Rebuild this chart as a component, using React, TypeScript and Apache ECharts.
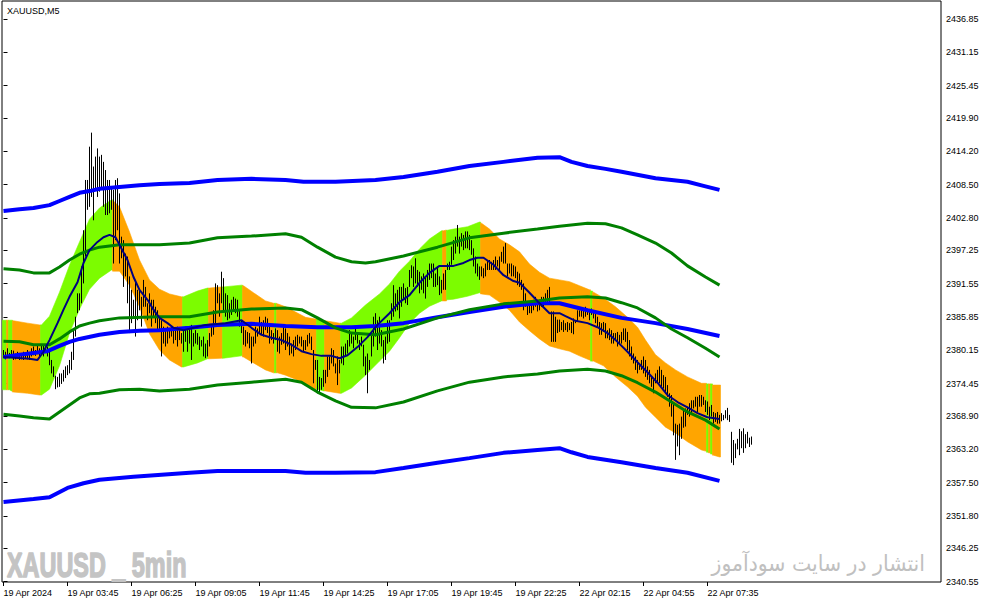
import React, { useEffect, useRef } from "react";
import * as echarts from "echarts";

// ---- axis ticks ----
const xTickIdx = [0, 32, 64, 96, 128, 160, 192, 224, 256, 288, 320, 352];
const xTickText = [
  "19 Apr 2024", "19 Apr 03:45", "19 Apr 06:25", "19 Apr 09:05", "19 Apr 11:45", "19 Apr 14:25",
  "19 Apr 17:05", "19 Apr 19:45", "19 Apr 22:25", "22 Apr 02:15", "22 Apr 04:55", "22 Apr 07:35",
];
const yTickVals = [
  2436.85, 2431.15, 2425.45, 2419.9, 2414.2, 2408.5, 2402.8, 2397.25, 2391.55,
  2385.85, 2380.15, 2374.45, 2368.9, 2363.2, 2357.5, 2351.8, 2346.25, 2340.55,
];

// ---- price bars (M5) ----
const highs = [
  2380.2, 2379.9, 2380.5, 2379.7, 2380.2, 2380.1, 2379.6, 2379.9, 2379.7, 2379.5,
  2379.9, 2379.6, 2380.2, 2379.7, 2380.5, 2380.8, 2380.2, 2380.9, 2380.5, 2381.1,
  2381.1, 2381.1, 2380.8, 2380.2, 2378.5, 2377.4, 2375.8, 2375.6, 2376.2, 2376.2,
  2376.8, 2377.4, 2377.6, 2378.5, 2379.9, 2383.6, 2385.9, 2389.9, 2389.9, 2394.5,
  2400.7, 2409.3, 2409.3, 2415.0, 2417.4, 2411.6, 2413.3, 2414.7, 2413.3, 2413.6,
  2412.4, 2411.0, 2409.3, 2409.3, 2408.2, 2407.6, 2409.3, 2409.6, 2407.0, 2399.6,
  2399.0, 2396.7, 2396.2, 2392.8, 2390.5, 2388.8, 2392.2, 2390.5, 2390.5, 2389.3,
  2392.2, 2391.0, 2388.2, 2389.9, 2388.8, 2388.8, 2387.6, 2387.0, 2385.9, 2385.3,
  2384.2, 2383.6, 2384.2, 2383.6, 2384.2, 2383.9, 2383.6, 2384.2, 2383.6, 2383.1,
  2383.9, 2384.2, 2383.6, 2383.9, 2384.5, 2383.1, 2383.6, 2383.1, 2382.5, 2381.9,
  2382.5, 2381.3, 2381.9, 2383.1, 2384.2, 2387.0, 2391.6, 2391.3, 2389.9, 2393.6,
  2392.5, 2389.9, 2389.6, 2388.2, 2388.8, 2389.3, 2389.0, 2388.8, 2387.0, 2385.3,
  2384.2, 2383.6, 2383.3, 2383.1, 2382.5, 2382.5, 2384.2, 2383.9, 2385.9, 2385.0,
  2385.3, 2385.9, 2385.6, 2384.2, 2383.6, 2383.1, 2383.9, 2383.6, 2382.5, 2383.1,
  2384.2, 2383.9, 2383.1, 2382.5, 2381.3, 2381.9, 2382.5, 2382.8, 2382.5, 2382.5,
  2381.9, 2381.9, 2382.8, 2383.1, 2382.5, 2380.2, 2378.5, 2378.5, 2375.6, 2375.4,
  2376.8, 2376.8, 2379.1, 2379.1, 2380.5, 2380.2, 2377.9, 2379.1, 2378.5, 2380.8,
  2380.8, 2381.3, 2381.9, 2383.6, 2383.1, 2382.5, 2384.2, 2383.1, 2381.9, 2382.5,
  2381.1, 2379.1, 2379.6, 2378.5, 2383.1, 2385.9, 2386.5, 2385.3, 2385.9, 2383.6,
  2381.9, 2382.5, 2385.3, 2385.3, 2388.2, 2391.3, 2389.9, 2390.5, 2391.0, 2391.0,
  2391.6, 2390.8, 2391.0, 2393.9, 2394.7, 2394.5, 2395.9, 2393.9, 2393.6, 2392.8,
  2393.3, 2392.8, 2393.9, 2395.0, 2395.0, 2395.0, 2393.3, 2394.5, 2392.8, 2392.2,
  2393.3, 2393.9, 2395.0, 2395.3, 2397.9, 2399.0, 2399.6, 2401.6, 2399.6, 2400.2,
  2399.9, 2400.5, 2400.5, 2399.9, 2399.0, 2397.6, 2396.2, 2395.0, 2394.5, 2394.5,
  2394.2, 2395.0, 2395.6, 2395.6, 2395.3, 2395.6, 2396.2, 2395.6, 2396.2, 2397.0,
  2397.9, 2398.5, 2395.0, 2395.0, 2395.0, 2394.7, 2394.5, 2393.6, 2393.3, 2392.2,
  2391.6, 2389.9, 2388.5, 2388.2, 2388.5, 2388.8, 2389.3, 2388.8, 2388.8, 2389.3,
  2389.3, 2389.9, 2390.5, 2391.0, 2386.8, 2386.8, 2385.9, 2385.4, 2385.4, 2385.0,
  2385.3, 2384.8, 2385.0, 2384.8, 2385.0, 2385.6, 2385.3, 2387.0, 2387.0, 2387.3,
  2387.0, 2387.6, 2387.0, 2386.8, 2387.3, 2386.8, 2387.0, 2385.9, 2385.0, 2384.8,
  2385.0, 2384.8, 2383.6, 2383.9, 2383.6, 2383.1, 2383.1, 2383.3, 2382.8, 2383.3,
  2383.9, 2383.9, 2383.3, 2381.9, 2380.8, 2379.6, 2379.1, 2378.5, 2377.9, 2378.5,
  2379.1, 2378.5, 2377.4, 2376.8, 2375.6, 2375.1, 2376.2, 2376.8, 2377.4, 2376.8,
  2375.9, 2375.6, 2374.2, 2372.8, 2372.5, 2371.1, 2367.6, 2367.4, 2367.6, 2368.8,
  2370.0, 2370.2, 2370.5, 2371.1, 2371.6, 2371.6, 2372.2, 2372.2, 2372.5, 2372.5,
  2372.2, 2371.6, 2371.4, 2370.5, 2370.8, 2369.6, 2369.4, 2369.6, 2369.1, 2369.4,
  2369.1, 2369.9, 2370.3, 2369.1, 2366.2, 2364.8, 2364.2, 2365.0, 2366.7, 2366.3,
  2366.8, 2365.8, 2366.2, 2365.2, 2365.4,
];
const lows = [
  2378.8, 2378.6, 2379.1, 2378.8, 2378.9, 2378.5, 2378.6, 2378.8, 2378.5, 2378.6,
  2378.5, 2378.8, 2378.6, 2378.5, 2379.1, 2379.3, 2379.2, 2379.5, 2379.1, 2379.7,
  2379.1, 2379.7, 2379.1, 2377.6, 2376.2, 2375.6, 2373.5, 2373.8, 2373.9, 2374.4,
  2374.8, 2375.4, 2375.9, 2376.2, 2376.8, 2378.5, 2382.5, 2386.5, 2387.0, 2388.2,
  2391.6, 2396.2, 2404.2, 2404.7, 2406.4, 2402.4, 2407.6, 2406.4, 2407.3, 2407.6,
  2404.7, 2403.3, 2403.3, 2403.6, 2404.2, 2395.0, 2399.0, 2400.7, 2395.0, 2395.9,
  2391.0, 2392.8, 2388.2, 2383.1, 2384.8, 2385.9, 2382.5, 2385.3, 2387.0, 2384.2,
  2387.6, 2387.6, 2385.3, 2386.5, 2384.2, 2385.9, 2384.8, 2383.6, 2383.6, 2379.1,
  2381.3, 2380.8, 2381.3, 2382.2, 2382.5, 2381.3, 2381.9, 2380.8, 2381.9, 2381.3,
  2379.9, 2381.6, 2379.9, 2381.3, 2378.5, 2380.8, 2381.3, 2381.1, 2380.2, 2380.8,
  2379.1, 2378.8, 2379.1, 2380.8, 2382.5, 2382.8, 2384.8, 2388.2, 2385.9, 2388.2,
  2386.8, 2385.9, 2385.3, 2385.6, 2386.2, 2386.8, 2386.5, 2385.9, 2384.2, 2383.1,
  2381.1, 2380.8, 2381.3, 2380.5, 2377.9, 2380.8, 2381.3, 2382.5, 2383.1, 2382.8,
  2382.5, 2383.6, 2383.1, 2381.3, 2381.9, 2381.3, 2381.9, 2379.9, 2379.6, 2381.1,
  2381.3, 2380.2, 2380.8, 2379.3, 2379.6, 2379.1, 2380.2, 2380.8, 2381.3, 2380.8,
  2379.9, 2380.2, 2380.8, 2381.3, 2380.2, 2374.5, 2376.8, 2372.8, 2372.8, 2373.4,
  2373.9, 2374.5, 2375.6, 2376.8, 2377.9, 2377.4, 2376.2, 2374.2, 2376.2, 2377.9,
  2377.6, 2379.1, 2379.6, 2380.8, 2381.3, 2380.5, 2381.9, 2381.3, 2380.2, 2380.8,
  2377.4, 2375.9, 2372.8, 2376.8, 2379.1, 2380.8, 2382.5, 2380.2, 2381.3, 2380.8,
  2377.9, 2378.5, 2381.3, 2381.6, 2385.3, 2385.9, 2386.8, 2387.0, 2385.6, 2387.6,
  2388.8, 2388.2, 2387.9, 2391.0, 2392.5, 2391.0, 2391.6, 2391.0, 2389.9, 2390.5,
  2389.9, 2389.0, 2391.0, 2392.2, 2392.5, 2391.0, 2391.0, 2391.3, 2389.6, 2389.9,
  2390.5, 2390.5, 2393.9, 2393.9, 2394.8, 2395.6, 2396.7, 2397.9, 2396.7, 2397.9,
  2397.3, 2397.6, 2397.6, 2397.3, 2396.5, 2394.5, 2393.3, 2392.8, 2392.2, 2392.8,
  2392.5, 2392.8, 2393.9, 2393.9, 2393.9, 2393.9, 2393.9, 2394.5, 2393.9, 2395.3,
  2395.0, 2395.0, 2392.8, 2393.3, 2392.8, 2392.8, 2392.5, 2391.3, 2391.0, 2390.5,
  2387.0, 2387.6, 2386.2, 2386.5, 2386.5, 2387.0, 2387.6, 2386.8, 2387.0, 2387.6,
  2387.6, 2387.9, 2388.2, 2388.2, 2381.6, 2381.6, 2381.6, 2383.1, 2383.3, 2383.6,
  2383.3, 2383.6, 2383.3, 2383.6, 2383.1, 2382.9, 2384.8, 2385.0, 2385.9, 2385.9,
  2385.6, 2385.9, 2386.2, 2385.3, 2386.2, 2385.6, 2384.8, 2384.2, 2382.8, 2382.8,
  2383.3, 2382.2, 2382.2, 2381.9, 2381.3, 2381.3, 2381.9, 2380.8, 2381.1, 2381.3,
  2381.9, 2381.6, 2380.2, 2379.1, 2378.5, 2377.9, 2376.8, 2376.2, 2376.8, 2376.8,
  2376.2, 2375.6, 2375.1, 2374.5, 2373.9, 2372.8, 2374.5, 2374.5, 2374.5, 2373.9,
  2373.6, 2372.8, 2372.2, 2370.5, 2368.8, 2365.6, 2361.4, 2363.7, 2362.2, 2365.0,
  2366.9, 2367.1, 2369.1, 2368.8, 2369.4, 2370.2, 2370.5, 2369.6, 2370.5, 2370.5,
  2370.8, 2369.6, 2369.1, 2368.2, 2368.8, 2367.6, 2367.9, 2367.6, 2367.6, 2368.0,
  2368.2, 2368.5, 2368.2, 2367.9, 2360.9, 2360.5, 2361.7, 2363.2, 2362.2, 2363.4,
  2362.6, 2363.4, 2364.2, 2363.6, 2364.0,
];

// ---- coloured band (sampled by bar index) ----
const bandIdx = [
  0, 1, 2, 3, 4, 5, 12, 18, 19, 23, 28, 33, 38, 43, 48, 54, 55, 58, 63, 68, 73, 78, 83, 89, 90,
  97, 102, 103, 109, 110, 119, 120, 125, 131, 135, 136, 137, 141, 146, 151, 156, 157, 160, 161, 168,
  169, 174, 181, 188, 193, 198, 203, 208, 213, 219, 220, 221, 222, 225, 232, 238, 239, 243, 248, 253,
  258, 263, 268, 273, 278, 283, 288, 293, 294, 295, 300, 306, 312, 317, 321, 326, 331, 336, 342, 349,
  351, 352, 353, 354, 355, 358,
];
const bandUp = [
  2385.3, 2385.3, 2385.3, 2385.3, 2385.3, 2385.2, 2384.8, 2384.5, 2384.5, 2386.0, 2390.1, 2394.7, 2398.7, 2402.6, 2404.5,
  2405.9, 2405.7, 2404.7, 2400.4, 2395.6, 2392.2, 2390.6, 2389.8, 2389.3, 2389.3,
  2390.3, 2390.8, 2390.8, 2391.0, 2391.0, 2391.3, 2391.2, 2390.0, 2388.6, 2388.2,
  2388.2, 2388.1, 2387.6, 2386.7, 2385.8, 2385.5, 2385.5, 2385.2, 2385.2, 2384.8,
  2384.8, 2385.7, 2387.9, 2389.8, 2391.5, 2393.7, 2395.4, 2397.5, 2399.2, 2400.6,
  2400.6, 2400.7, 2400.7, 2400.9, 2401.3, 2402.1, 2401.9, 2400.9, 2399.2, 2398.2,
  2397.0, 2394.9, 2393.5, 2392.5, 2392.2, 2391.9, 2391.2, 2390.5, 2390.3, 2390.1,
  2389.1, 2387.6, 2385.8, 2384.1, 2381.9, 2379.4, 2378.0, 2376.8, 2375.6, 2374.5,
  2374.5, 2374.4, 2374.4, 2374.4, 2374.2, 2374.2,
];
const bandLo = [
  2373.4, 2373.4, 2373.4, 2373.4, 2373.2, 2373.0, 2372.8, 2372.5, 2372.5, 2373.5, 2377.5, 2383.1, 2387.2, 2390.6, 2392.5,
  2393.9, 2393.7, 2393.7, 2391.3, 2387.6, 2383.0, 2380.2, 2378.5, 2377.3, 2377.3,
  2378.0, 2378.7, 2378.7, 2378.8, 2378.8, 2379.2, 2379.0, 2378.0, 2376.8, 2376.3,
  2376.3, 2376.3, 2375.9, 2375.2, 2374.2, 2373.5, 2373.5, 2373.2, 2373.2, 2372.8,
  2372.8, 2373.7, 2375.9, 2378.3, 2380.0, 2382.3, 2384.8, 2386.5, 2387.7, 2388.6,
  2388.6, 2388.6, 2388.8, 2388.9, 2389.4, 2390.0, 2389.8, 2389.6, 2388.4, 2387.0,
  2385.0, 2383.5, 2382.1, 2380.9, 2380.4, 2380.0, 2379.2, 2378.5, 2378.3, 2378.3,
  2377.5, 2375.6, 2373.9, 2372.3, 2370.4, 2368.7, 2367.0, 2366.0, 2364.5, 2363.1,
  2362.9, 2362.7, 2362.6, 2362.4, 2362.2, 2361.9,
];
// [first bar, last bar, colour index]  0 = falling (orange), 1 = rising (green)
const bandSegments = [
  [0, 1, 1], [2, 2, 0], [3, 4, 1], [5, 18, 0], [19, 54, 1], [55, 89, 0], [90, 102, 1], [103, 109, 0],
  [110, 119, 1], [120, 135, 0], [136, 136, 1], [137, 156, 0], [157, 160, 1], [161, 168, 0], [169, 219, 1],
  [220, 221, 0], [222, 238, 1], [239, 293, 0], [294, 294, 1], [295, 351, 0], [352, 352, 1], [353, 353, 0],
  [354, 354, 1], [355, 358, 0],
];
const bandColors = ["#FFA500", "#7CFC00"];

// ---- moving average in the band ----
const maLine = [
  [0, 2379.0], [13, 2378.7], [17, 2378.5], [20, 2379.9], [23, 2381.9], [27, 2384.8], [30, 2387.1], [33, 2389.3],
  [37, 2391.8], [40, 2395.1], [43, 2397.3], [47, 2398.7], [50, 2399.5], [53, 2399.9], [56, 2399.5], [58, 2398.2],
  [62, 2395.6], [65, 2392.7], [68, 2390.5], [72, 2388.8], [75, 2387.1], [78, 2385.7], [82, 2384.8], [85, 2384.0],
  [90, 2383.6], [101, 2384.5], [111, 2384.8], [119, 2385.3], [124, 2384.0], [129, 2382.8], [134, 2382.3],
  [139, 2381.9], [144, 2381.1], [149, 2380.0], [154, 2379.5], [159, 2379.2], [164, 2379.2], [168, 2378.8],
  [172, 2379.3], [177, 2380.7], [182, 2382.4], [187, 2384.5], [193, 2386.5], [198, 2388.4], [203, 2389.6],
  [208, 2391.7], [213, 2393.4], [218, 2394.6], [225, 2394.6], [230, 2395.1], [233, 2395.6], [237, 2396.0],
  [240, 2396.0], [245, 2394.8], [250, 2393.0], [255, 2392.0], [258, 2391.7], [263, 2390.0], [268, 2388.2],
  [273, 2386.5], [278, 2386.5], [281, 2386.0], [286, 2385.2], [292, 2384.8], [297, 2384.1], [302, 2383.1],
  [307, 2381.6], [312, 2379.9], [317, 2378.1], [322, 2376.4], [327, 2374.6], [332, 2372.5], [337, 2371.3],
  [342, 2370.4], [347, 2369.4], [352, 2368.7], [358, 2368.4],
];

// ---- blue envelope ----
const blueUpper = [
  [0, 2404.0], [8, 2404.3], [15, 2404.5], [23, 2405.0], [28, 2405.7], [33, 2406.4], [38, 2407.1], [43, 2407.4],
  [48, 2407.8], [58, 2408.1], [68, 2408.4], [78, 2408.6], [93, 2408.8], [107, 2409.3], [124, 2409.5], [141, 2409.3],
  [150, 2409.0], [166, 2409.0], [186, 2409.3], [200, 2409.8], [217, 2410.7], [233, 2411.7], [250, 2412.4],
  [267, 2413.1], [278, 2413.2], [284, 2412.4], [292, 2411.7], [301, 2411.2], [309, 2410.7], [326, 2409.6],
  [342, 2409.0], [350, 2408.3], [358, 2407.6],
];
const blueMid = [
  [0, 2379.0], [8, 2379.4], [15, 2379.7], [22, 2380.0], [28, 2380.9], [33, 2381.6], [38, 2382.1], [48, 2382.8],
  [58, 2383.3], [68, 2383.5], [78, 2383.6], [93, 2384.0], [107, 2384.5], [124, 2384.7], [141, 2384.3], [157, 2384.1],
  [174, 2384.1], [186, 2384.3], [200, 2384.8], [217, 2385.8], [233, 2386.7], [250, 2387.6], [267, 2388.2],
  [278, 2388.2], [284, 2387.7], [292, 2387.0], [309, 2385.7], [326, 2384.8], [342, 2383.8], [358, 2382.6],
];
const blueLower = [
  [0, 2354.2], [15, 2354.7], [23, 2355.0], [32, 2356.6], [40, 2357.4], [48, 2358.0], [65, 2358.5], [93, 2359.2],
  [107, 2359.5], [141, 2359.5], [151, 2359.2], [166, 2359.2], [186, 2359.3], [200, 2360.0], [217, 2360.9],
  [233, 2361.7], [250, 2362.6], [267, 2363.1], [278, 2363.4], [284, 2362.7], [292, 2361.9], [309, 2361.0],
  [326, 2360.0], [342, 2359.2], [358, 2357.8],
];

// ---- green envelope ----
const greenUpper = [
  [0, 2394.1], [8, 2393.9], [15, 2393.4], [23, 2393.4], [28, 2394.4], [33, 2395.6], [38, 2396.6], [43, 2397.3],
  [48, 2397.8], [58, 2398.2], [78, 2398.2], [93, 2398.5], [107, 2399.4], [124, 2399.7], [141, 2400.1], [149, 2399.5],
  [157, 2397.8], [166, 2396.1], [174, 2395.3], [181, 2395.1], [186, 2395.3], [200, 2396.3], [217, 2397.8],
  [233, 2399.4], [250, 2400.2], [267, 2400.9], [278, 2401.4], [292, 2401.9], [301, 2401.8], [309, 2401.1],
  [317, 2399.9], [326, 2398.5], [334, 2396.8], [342, 2394.6], [351, 2392.7], [358, 2391.3],
];
const greenMid = [
  [0, 2381.7], [8, 2381.6], [15, 2381.1], [23, 2381.1], [28, 2382.1], [33, 2383.3], [38, 2384.3], [43, 2384.8],
  [48, 2385.2], [58, 2385.7], [78, 2385.9], [93, 2385.9], [107, 2386.7], [124, 2387.2], [141, 2387.4], [149, 2387.1],
  [157, 2385.7], [166, 2384.0], [174, 2383.1], [186, 2382.8], [200, 2383.8], [217, 2385.7], [233, 2387.1],
  [250, 2388.1], [267, 2388.6], [278, 2389.1], [292, 2389.3], [301, 2389.1], [309, 2388.3], [317, 2387.4],
  [326, 2385.7], [334, 2383.8], [342, 2382.3], [351, 2380.5], [358, 2379.0],
];
const greenLower = [
  [0, 2369.2], [8, 2368.9], [15, 2368.6], [23, 2368.4], [28, 2369.6], [33, 2370.8], [38, 2372.0], [43, 2372.7],
  [48, 2372.8], [58, 2373.4], [68, 2373.5], [78, 2373.2], [93, 2373.5], [107, 2374.2], [124, 2374.7], [141, 2375.2],
  [149, 2374.7], [157, 2373.0], [166, 2371.5], [174, 2370.4], [186, 2370.3], [200, 2371.3], [217, 2373.2],
  [233, 2374.7], [250, 2375.6], [267, 2376.1], [278, 2376.6], [292, 2376.9], [301, 2376.6], [309, 2375.8],
  [317, 2374.6], [326, 2373.0], [334, 2371.3], [342, 2369.6], [351, 2368.2], [358, 2366.7],
];

const FONT = "Liberation Sans";

function lineSeries(data: number[][], color: string, width: number) {
  return {
    type: "line",
    data,
    showSymbol: false,
    symbol: "none",
    silent: true,
    lineStyle: { color, width, cap: "butt", join: "bevel" },
  };
}

export default function App() {
  const ref = useRef<HTMLDivElement>(null);
  useEffect(() => {
    const chart = echarts.init(ref.current as HTMLDivElement, null, { renderer: "svg" });
    const option = {
      animation: false,
      backgroundColor: "#ffffff",
      grid: {
        left: 2, right: 46, top: 1, bottom: 23,
        show: true, borderColor: "#000000", borderWidth: 1, backgroundColor: "#ffffff",
      },
      xAxis: {
        type: "value",
        min: -0.75,
        max: 468.75,
        axisLine: { show: false },
        splitLine: { show: false },
        axisTick: { show: true, length: 4, customValues: xTickIdx, lineStyle: { color: "#000" } },
        axisLabel: {
          customValues: xTickIdx,
          align: "left",
          margin: 6,
          fontFamily: FONT,
          fontSize: 9,
          color: "#000",
          formatter: (v: number) => xTickText[xTickIdx.indexOf(Math.round(v))] || "",
        },
      },
      yAxis: {
        type: "value",
        position: "right",
        min: 2340.5,
        max: 2439.93,
        axisLine: { show: false },
        splitLine: { show: false },
        axisTick: { show: true, length: 4, customValues: yTickVals, lineStyle: { color: "#000" } },
        axisLabel: {
          customValues: yTickVals,
          margin: 5,
          fontFamily: FONT,
          fontSize: 9,
          color: "#000",
          formatter: (v: number) => v.toFixed(2),
        },
      },
      graphic: [
        {
          type: "text", x: 7, y: 11,
          style: {
            text: "XAUUSD,M5", font: `9px "${FONT}"`, fill: "#000",
            textAlign: "left", textVerticalAlign: "middle",
          },
        },
        {
          type: "text", x: 7, y: 565, scaleX: 0.65,
          style: {
            text: "XAUUSD _ 5min", font: `bold 36px "${FONT}"`, fill: "#c4c4c4",
            stroke: "#c4c4c4", lineWidth: 1.6,
            textAlign: "left", textVerticalAlign: "middle",
          },
        },
        {
          type: "text", x: 925, y: 563, scaleX: 0.93,
          style: {
            text: "انتشار در سایت سودآموز", font: `22px "DejaVu Sans"`, fill: "#c0c0c0",
            textAlign: "right", textVerticalAlign: "middle",
          },
        },
      ],
      series: [
        {
          type: "custom",
          silent: true,
          data: bandSegments,
          renderItem: (params: any, api: any) => {
            const s = api.value(0);
            const e = api.value(1);
            const c = api.value(2);
            const top: number[][] = [];
            const bot: number[][] = [];
            for (let k = 0; k < bandIdx.length; k++) {
              const ix = bandIdx[k];
              if (ix < s || ix > e) continue;
              top.push([ix, bandUp[k]]);
              bot.push([ix, bandLo[k]]);
            }
            if (!top.length) return null;
            const pts: number[][] = [];
            pts.push(api.coord([s - 0.5, top[0][1]]));
            top.forEach((p) => pts.push(api.coord(p)));
            pts.push(api.coord([e + 0.5, top[top.length - 1][1]]));
            pts.push(api.coord([e + 0.5, bot[bot.length - 1][1]]));
            for (let k = bot.length - 1; k >= 0; k--) pts.push(api.coord(bot[k]));
            pts.push(api.coord([s - 0.5, bot[0][1]]));
            const col = bandColors[c];
            return {
              type: "polygon",
              shape: { points: pts },
              style: { fill: col, stroke: col, lineWidth: 0.6 },
            };
          },
        },
        lineSeries(blueUpper, "#0000FF", 4),
        lineSeries(blueMid, "#0000FF", 4),
        lineSeries(blueLower, "#0000FF", 4),
        lineSeries(greenUpper, "#008000", 3),
        lineSeries(greenMid, "#008000", 3),
        lineSeries(greenLower, "#008000", 3),
        lineSeries(maLine, "#000080", 2),
        {
          type: "custom",
          silent: true,
          data: highs.map((h, i) => [i, h, lows[i]]),
          renderItem: (params: any, api: any) => {
            const i = api.value(0);
            const a = api.coord([i, api.value(1)]);
            const b = api.coord([i, api.value(2)]);
            return {
              type: "line",
              shape: { x1: a[0], y1: a[1], x2: b[0], y2: b[1] },
              style: { stroke: "#000000", lineWidth: 1 },
            };
          },
        },
      ],
    };
    chart.setOption(option as any);
    return () => chart.dispose();
  }, []);
  return (
    <div
      ref={ref}
      style={{ position: "absolute", left: 0, top: 0, width: 987, height: 605 }}
    />
  );
}
